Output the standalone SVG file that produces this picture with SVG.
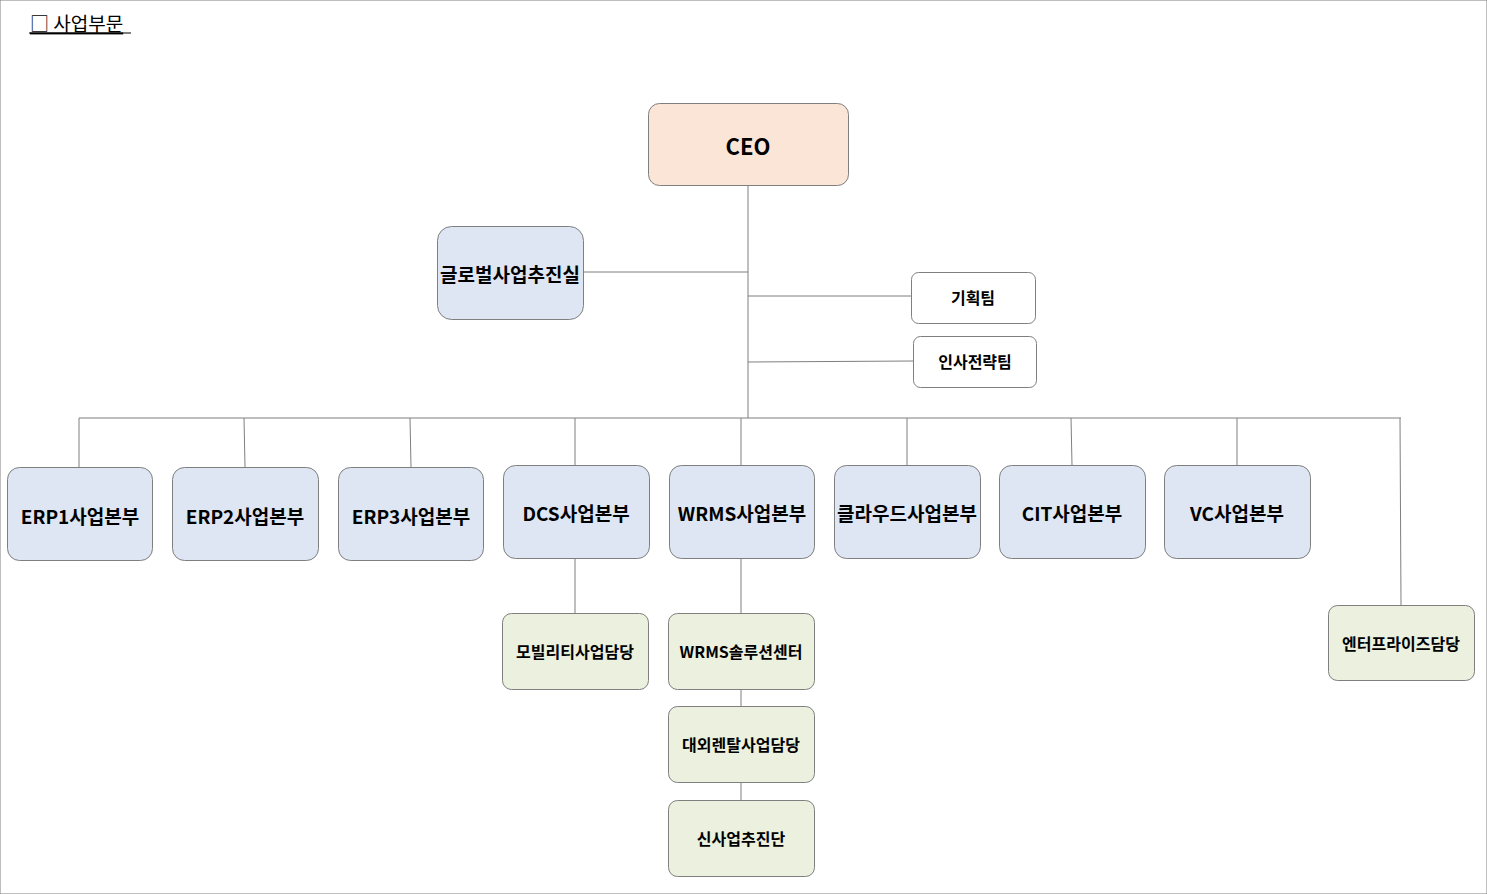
<svg xmlns="http://www.w3.org/2000/svg" width="1487" height="894" viewBox="0 0 1487 894">
<style>
rect{stroke:#7f7f7f;stroke-width:1}
.c{fill:#fbe5d6}.b{fill:#dde6f2}.w{fill:#fff}.g{fill:#ebf0df}
text{font-family:"Noto Sans CJK KR","Noto Sans",sans-serif;font-weight:bold;fill:#000;text-anchor:middle;dominant-baseline:central}
.l{font-size:19px}.s{font-size:16px}
#conn line{stroke:#7f7f7f;stroke-width:1}
</style>
<rect width="1487" height="894" fill="#fff" stroke="none"/>
<text x="30" y="22" style="font-size:19px;text-anchor:start;font-weight:normal;text-decoration:underline">□ 사업부문</text>
<line x1="29" y1="33" x2="131" y2="33" stroke="#000" stroke-width="1.2"/>
<g id="conn">
<line x1="748" y1="185" x2="748" y2="418"/>
<line x1="583" y1="272" x2="748" y2="272"/>
<line x1="748" y1="296" x2="911" y2="296"/>
<line x1="748" y1="362" x2="913" y2="361"/>
<line x1="79" y1="418" x2="1401" y2="418"/>
<line x1="79" y1="418" x2="79" y2="467"/>
<line x1="244" y1="418" x2="245" y2="467"/>
<line x1="410" y1="418" x2="411" y2="467"/>
<line x1="575" y1="418" x2="575" y2="465"/>
<line x1="741" y1="418" x2="741" y2="465"/>
<line x1="907" y1="418" x2="907" y2="465"/>
<line x1="1071" y1="418" x2="1072" y2="465"/>
<line x1="1237" y1="418" x2="1237" y2="465"/>
<line x1="1400" y1="418" x2="1401" y2="605"/>
<line x1="575" y1="558" x2="575" y2="613"/>
<line x1="741" y1="558" x2="741" y2="613"/>
<line x1="741" y1="689" x2="741" y2="706"/>
<line x1="741" y1="782" x2="741" y2="800"/>
</g>
<g id="ceo"><rect class="c" x="648.5" y="103.5" width="200" height="82" rx="11"/><text class="l" x="748" y="145" style="font-size:22px">CEO</text></g>
<g id="global"><rect class="b" x="437.5" y="226.5" width="146" height="93" rx="14"/><text class="l" x="510" y="273">글로벌사업추진실</text></g>
<g id="plan"><rect class="w" x="911.5" y="272.5" width="124" height="51" rx="7"/><text class="s" x="973" y="297">기획팀</text></g>
<g id="hr"><rect class="w" x="913.5" y="336.5" width="123" height="51" rx="7"/><text class="s" x="975" y="361">인사전략팀</text></g>
<g id="erp1"><rect class="b" x="7.5" y="467.5" width="145" height="93" rx="12"/><text class="l" x="80" y="515">ERP1사업본부</text></g>
<g id="erp2"><rect class="b" x="172.5" y="467.5" width="146" height="93" rx="12"/><text class="l" x="245" y="515">ERP2사업본부</text></g>
<g id="erp3"><rect class="b" x="338.5" y="467.5" width="145" height="93" rx="12"/><text class="l" x="411" y="515">ERP3사업본부</text></g>
<g id="dcs"><rect class="b" x="503.5" y="465.5" width="146" height="93" rx="12"/><text class="l" x="576" y="512">DCS사업본부</text></g>
<g id="wrms"><rect class="b" x="669.5" y="465.5" width="145" height="93" rx="12"/><text class="l" x="742" y="512">WRMS사업본부</text></g>
<g id="cloud"><rect class="b" x="834.5" y="465.5" width="146" height="93" rx="12"/><text class="l" x="907" y="512">클라우드사업본부</text></g>
<g id="cit"><rect class="b" x="999.5" y="465.5" width="146" height="93" rx="12"/><text class="l" x="1072" y="512">CIT사업본부</text></g>
<g id="vc"><rect class="b" x="1164.5" y="465.5" width="146" height="93" rx="12"/><text class="l" x="1237" y="512">VC사업본부</text></g>
<g id="mobility"><rect class="g" x="502.5" y="613.5" width="146" height="76" rx="9"/><text class="s" x="575" y="651">모빌리티사업담당</text></g>
<g id="wrmssol"><rect class="g" x="668.5" y="613.5" width="146" height="76" rx="9"/><text class="s" x="741" y="651">WRMS솔루션센터</text></g>
<g id="rental"><rect class="g" x="668.5" y="706.5" width="146" height="76" rx="9"/><text class="s" x="741" y="744">대외렌탈사업담당</text></g>
<g id="newbiz"><rect class="g" x="668.5" y="800.5" width="146" height="76" rx="9"/><text class="s" x="741" y="838">신사업추진단</text></g>
<g id="enterprise"><rect class="g" x="1328.5" y="605.5" width="146" height="75" rx="9"/><text class="s" x="1401" y="643">엔터프라이즈담당</text></g>
</svg>
